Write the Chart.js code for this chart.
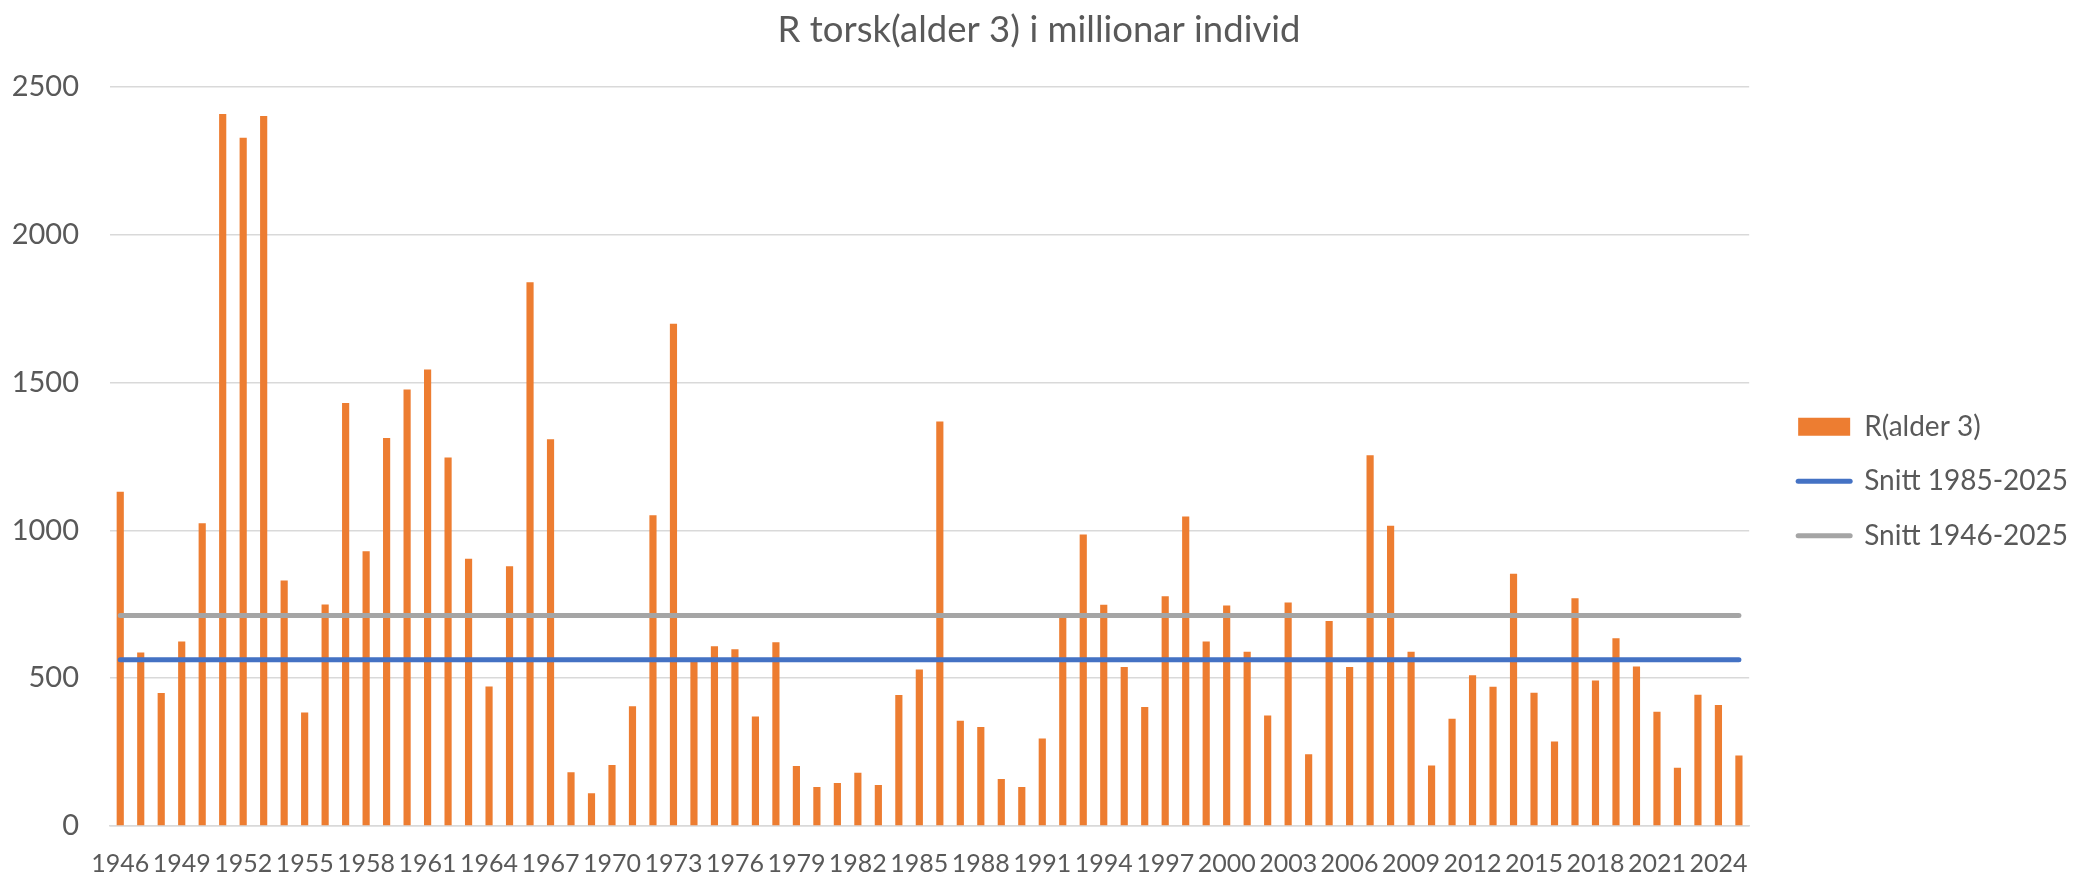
<!DOCTYPE html>
<html>
<head>
<meta charset="utf-8">
<script src="https://cdn.jsdelivr.net/npm/chart.js@4.4.1/dist/chart.umd.min.js"></script>
<style>
  html, body { margin: 0; padding: 0; background: #fff; }
  #wrap { width: 2078px; height: 878px; }
</style>
</head>
<body>
<div id="wrap"><canvas id="chart" width="2078" height="878"></canvas></div>
<script>
// Årstal (kategoriar)
const years = [
  '1946','1947','1948','1949','1950','1951','1952','1953','1954','1955',
  '1956','1957','1958','1959','1960','1961','1962','1963','1964','1965',
  '1966','1967','1968','1969','1970','1971','1972','1973','1974','1975',
  '1976','1977','1978','1979','1980','1981','1982','1983','1984','1985',
  '1986','1987','1988','1989','1990','1991','1992','1993','1994','1995',
  '1996','1997','1998','1999','2000','2001','2002','2003','2004','2005',
  '2006','2007','2008','2009','2010','2011','2012','2013','2014','2015',
  '2016','2017','2018','2019','2020','2021','2022','2023','2024','2025'
];

// R(alder 3), millionar individ
const rAlder3 = [
  1130, 587, 450, 624, 1024, 2408, 2327, 2401, 830, 384,
  749, 1430, 929, 1312, 1476, 1544, 1246, 904, 472, 878,
  1839, 1308, 182, 111, 206, 405, 1051, 1698, 555, 608,
  598, 370, 621, 203, 132, 145, 180, 139, 443, 529,
  1368, 356, 335, 159, 132, 296, 705, 986, 748, 538,
  402, 777, 1047, 624, 746, 589, 374, 756, 243, 693,
  538, 1254, 1015, 589, 205, 363, 510, 471, 853, 451,
  286, 770, 492, 635, 539, 386, 197, 444, 409, 238
];

// snittlinjer
const snittNamn = ['Snitt 1985-2025', 'Snitt 1946-2025'];
const snittVerdi = [562, 712];
const snittFarge = ['#4472C4', '#A5A5A5'];

// y-akse
const yTicks = [0, 500, 1000, 1500, 2000, 2500];

const grey = '#595959';
const font = 'Lato';

const snittSet = snittNamn.map((namn, i) => ({
  type: 'line',
  label: namn,
  data: [
    { x: years[0], y: snittVerdi[i] },
    { x: years[years.length - 1], y: snittVerdi[i] }
  ],
  borderColor: snittFarge[i],
  backgroundColor: snittFarge[i],
  borderWidth: 5,
  borderCapStyle: 'round',
  pointRadius: 0,
  pointHoverRadius: 0,
  fill: false,
  order: 0
}));

new Chart(document.getElementById('chart'), {
  type: 'bar',
  data: {
    labels: years,
    datasets: [{
      label: 'R(alder 3)',
      data: rAlder3,
      backgroundColor: '#ED7D31',
      borderWidth: 0,
      barPercentage: 0.35,
      categoryPercentage: 1,
      order: 1
    }].concat(snittSet)
  },
  options: {
    responsive: false,
    devicePixelRatio: 1,
    animation: false,
    layout: { padding: { left: 0, right: 0, top: 0, bottom: 0 } },
    plugins: {
      title: {
        display: true,
        text: 'R torsk(alder 3) i millionar individ',
        color: grey,
        font: { family: font, size: 36.5, weight: 'normal' },
        padding: { top: 8, bottom: 34.9 }
      },
      legend: {
        position: 'right',
        title: { display: true, text: ' ', font: { size: 12 }, padding: 35 },
        labels: {
          usePointStyle: true,
          pointStyleWidth: 52,
          boxHeight: 18,
          padding: 26.5,
          color: grey,
          font: { family: font, size: 28 },
          sort: (a, b) => a.datasetIndex - b.datasetIndex,
          generateLabels(chart) {
            const items = Chart.defaults.plugins.legend.labels.generateLabels(chart);
            items.forEach(it => {
              if (it.datasetIndex === 0) { it.pointStyle = 'rect'; it.lineWidth = 0; }
              else { it.pointStyle = 'line'; it.lineWidth = 5; it.lineCap = 'round'; }
            });
            return items;
          }
        }
      },
      tooltip: { enabled: false }
    },
    scales: {
      x: {
        grid: { display: false, drawTicks: false },
        border: { display: true, color: '#D9D9D9', width: 1.5 },
        ticks: {
          autoSkip: false,
          maxRotation: 0,
          minRotation: 0,
          padding: 23.4,
          color: grey,
          font: { family: font, size: 25 },
          callback: (v, i) => (i % 3 === 0 ? years[i] : '')
        },
        afterFit: s => { s.height = 52; }
      },
      y: {
        min: yTicks[0],
        max: yTicks[yTicks.length - 1],
        ticks: {
          stepSize: yTicks[1] - yTicks[0],
          padding: 31,
          color: grey,
          font: { family: font, size: 29 },
          callback: v => String(v)
        },
        grid: { color: '#D9D9D9', lineWidth: 1.5, drawTicks: false },
        border: { display: false },
        afterFit: s => { s.width = 110; }
      },
      spacer: {
        type: 'linear',
        position: 'right',
        grid: { display: false, drawTicks: false },
        border: { display: false },
        ticks: { display: false },
        afterFit: s => { s.width = 22.5; }
      }
    }
  }
});
</script>
</body>
</html>
